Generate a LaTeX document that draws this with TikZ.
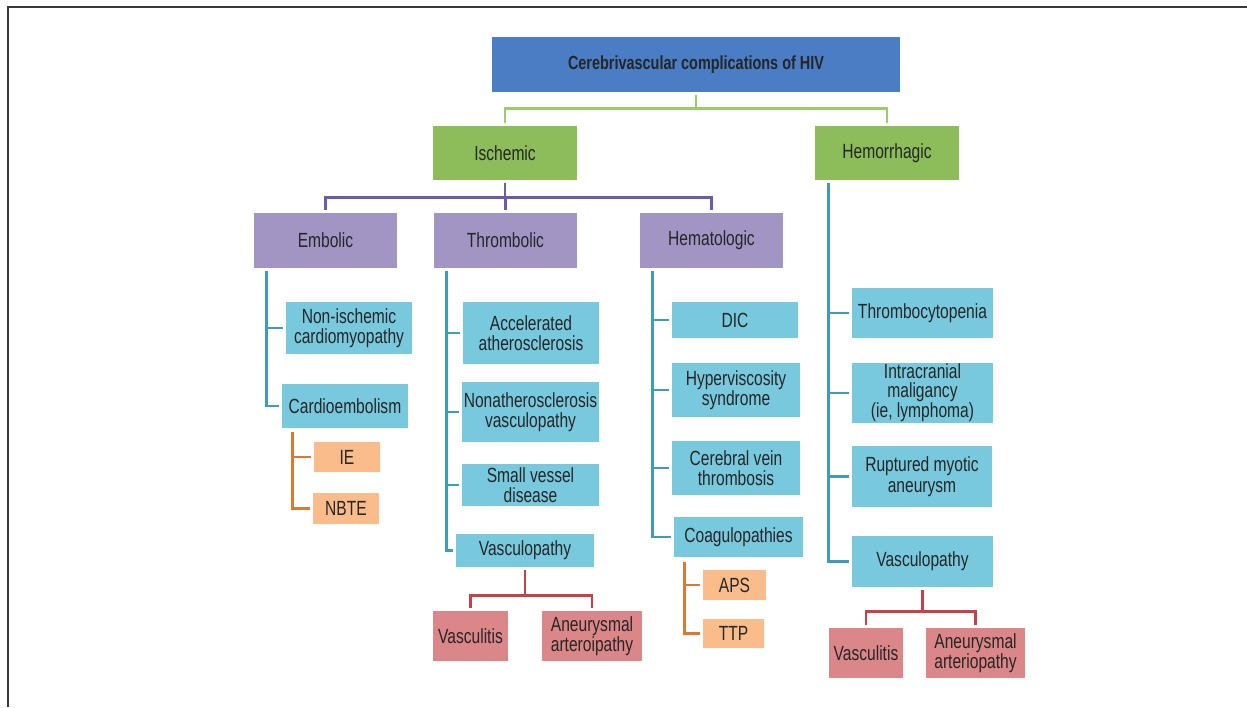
\documentclass[tikz,border=0pt]{standalone}
\usepackage{fontspec}
\setmainfont{Liberation Sans}[FakeStretch=0.76]
\definecolor{txt}{HTML}{262626}
\definecolor{fblue}{HTML}{4A7DC4}
\definecolor{fgreen}{HTML}{8DBD5A}
\definecolor{fpurple}{HTML}{A295C4}
\definecolor{fcyan}{HTML}{78C9DD}
\definecolor{forange}{HTML}{F9BC8A}
\definecolor{fred}{HTML}{DB8688}
\definecolor{lgreen}{HTML}{9CCB6B}
\definecolor{lpurple}{HTML}{6D5BA5}
\definecolor{lcyan}{HTML}{3E9CB8}
\definecolor{lorange}{HTML}{DA7A30}
\definecolor{lred}{HTML}{C2434D}
\definecolor{frame}{HTML}{3A3A3A}
\tikzset{
  box/.style={rectangle, inner sep=0pt, align=center, text=txt, font=\fontsize{20.5}{20.5}\selectfont},
  sz/.style 2 args={minimum width=#1pt, minimum height=#2pt},
  bluebox/.style={box, fill=fblue, font=\bfseries\fontsize{19}{19}\selectfont},
  greenbox/.style={box, fill=fgreen},
  purplebox/.style={box, fill=fpurple},
  cyanbox/.style={box, fill=fcyan},
  orangebox/.style={box, fill=forange},
  redbox/.style={box, fill=fred},
  conn/.style={line width=2.8pt},
  gl/.style={conn, draw=lgreen},
  pl/.style={conn, draw=lpurple},
  cl/.style={conn, draw=lcyan},
  ol/.style={conn, draw=lorange},
  rl/.style={conn, draw=lred},
  gap/.style={shorten >=3pt},
}
\begin{document}
\begin{tikzpicture}[x=1pt, y=-1pt]
\useasboundingbox (0,0) rectangle (1247,707);
\draw[frame, line width=2pt] (8,707) -- (8,7) -- (1247,7);

% nodes
\node[bluebox, sz={408}{55}] (title) at (696,64.5) {Cerebrivascular complications of HIV};
\node[greenbox, sz={144}{54}] (isch) at (505,153) {Ischemic};
\node[greenbox, sz={144}{54}] (hem) at (887,153) {Hemorrhagic};
\node[purplebox, sz={143}{55}] (emb) at (325.5,240.5) {Embolic};
\node[purplebox, sz={143}{55}] (thr) at (505.5,240.5) {Thrombolic};
\node[purplebox, sz={143}{55}] (hema) at (711.5,240.5) {Hematologic};

\node[cyanbox, sz={126}{52}] (nonis) at (349,328) {Non-ischemic\\cardiomyopathy};
\node[cyanbox, sz={126}{44}] (card) at (345,406) {Cardioembolism};
\node[orangebox, sz={66}{30}] (ie) at (347,457) {IE};
\node[orangebox, sz={66}{31}] (nbte) at (346,508.5) {NBTE};

\node[cyanbox, sz={136}{62}] (acc) at (531,333) {Accelerated\\atherosclerosis};
\node[cyanbox, sz={137}{60}] (nonath) at (530.5,412) {Nonatherosclerosis\\vasculopathy};
\node[cyanbox, sz={137}{42}] (small) at (530.5,485) {Small vessel\\disease};
\node[cyanbox, sz={138}{33}] (vasc1) at (525,550.5) {Vasculopathy};
\node[redbox, sz={75}{50}] (vlitis1) at (470.5,636) {Vasculitis};
\node[redbox, sz={100}{50}] (aneu1) at (592,636) {Aneurysmal\\arteroipathy};

\node[cyanbox, sz={126}{36}] (dic) at (735,320) {DIC};
\node[cyanbox, sz={128}{54}] (hyper) at (736,390) {Hyperviscosity\\syndrome};
\node[cyanbox, sz={128}{54}] (cvt) at (736,468) {Cerebral vein\\thrombosis};
\node[cyanbox, sz={129}{40}] (coag) at (738.5,537) {Coagulopathies};
\node[orangebox, sz={63}{30}] (aps) at (734.5,585) {APS};
\node[orangebox, sz={61}{29}] (ttp) at (733.5,633.5) {TTP};

\node[cyanbox, sz={141}{50}] (thromb) at (922.5,313) {Thrombocytopenia};
\node[cyanbox, sz={141}{60}, font=\fontsize{20.5}{19}\selectfont] (intra) at (922.5,393) {Intracranial\\maligancy\\(ie, lymphoma)};
\node[cyanbox, sz={140}{61}] (rupt) at (922,476.5) {Ruptured myotic\\aneurysm};
\node[cyanbox, sz={141}{51}] (vasc2) at (922.5,561.5) {Vasculopathy};
\node[redbox, sz={74}{50}] (vlitis2) at (866,653) {Vasculitis};
\node[redbox, sz={99}{50}] (aneu2) at (975.5,653) {Aneurysmal\\arteriopathy};

% green
\coordinate (gj) at ([yshift=-16pt]title.south);
\draw[gl, shorten <=3pt] (title.south) -- (gj);
\draw[gl, gap] (gj) -| (isch.north);
\draw[gl, gap] (gj) -| (hem.north);

% purple
\coordinate (pj) at ([yshift=-17pt]isch.south);
\draw[pl, shorten <=3pt] (isch.south) -- (pj);
\draw[pl, gap] (pj) -| (emb.north);
\draw[pl, gap] (pj) -| (thr.north);
\draw[pl, gap] (pj) -| (hema.north);

% embolic
\coordinate (ec) at ([xshift=13pt,yshift=-3pt]emb.south west);
\draw[cl, gap] (ec) |- (card.west);
\draw[cl, gap] (ec |- nonis.west) -- (nonis.west);
\coordinate (oc) at ([xshift=11pt,yshift=-4pt]card.south west);
\draw[ol, gap] (oc) |- (nbte.west);
\draw[ol, gap] (oc |- ie.west) -- (ie.west);

% thrombolic
\coordinate (tc) at ([xshift=13pt,yshift=-3pt]thr.south west);
\draw[cl, gap] (tc) |- (vasc1.west);
\draw[cl, gap] (tc |- acc.west) -- (acc.west);
\draw[cl, gap] (tc |- nonath.west) -- (nonath.west);
\draw[cl, gap] (tc |- small.west) -- (small.west);
\coordinate (rj) at ([yshift=-28pt]vasc1.south);
\draw[rl, shorten <=3pt] (vasc1.south) -- (rj);
\draw[rl, gap] (rj) -| (vlitis1.north);
\draw[rl, gap] (rj) -| (aneu1.north);

% hematologic
\coordinate (hc) at ([xshift=13pt,yshift=-3pt]hema.south west);
\draw[cl, gap] (hc) |- (coag.west);
\draw[cl, gap] (hc |- dic.west) -- (dic.west);
\draw[cl, gap] (hc |- hyper.west) -- (hyper.west);
\draw[cl, gap] (hc |- cvt.west) -- (cvt.west);
\coordinate (cc) at ([xshift=11pt,yshift=-5pt]coag.south west);
\draw[ol, gap] (cc) |- (ttp.west);
\draw[ol, gap] (cc |- aps.west) -- (aps.west);

% hemorrhagic
\coordinate (mc) at ([xshift=14pt,yshift=-3pt]hem.south west);
\draw[cl, gap] (mc) |- (vasc2.west);
\draw[cl, gap] (mc |- thromb.west) -- (thromb.west);
\draw[cl, gap] (mc |- intra.west) -- (intra.west);
\draw[cl, gap] (mc |- rupt.west) -- (rupt.west);
\coordinate (rj2) at ([yshift=-24pt]vasc2.south);
\draw[rl, shorten <=3pt] (vasc2.south) -- (rj2);
\draw[rl, gap] (rj2) -| (vlitis2.north);
\draw[rl, gap] (rj2) -| (aneu2.north);
\end{tikzpicture}
\end{document}
